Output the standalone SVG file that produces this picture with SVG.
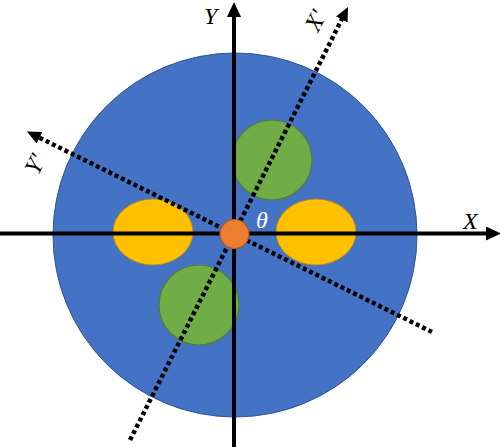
<svg xmlns="http://www.w3.org/2000/svg" width="500" height="447" viewBox="0 0 500 447">
<defs>
<marker id="ah" markerUnits="userSpaceOnUse" markerWidth="16" markerHeight="16" refX="6" refY="7" orient="auto"><path d="M0,0 L15,7 L0,14 z" fill="#000"/></marker>
<marker id="ahd" markerUnits="userSpaceOnUse" markerWidth="16" markerHeight="16" refX="5" refY="6.5" orient="auto"><path d="M0,0 L14,6.5 L0,13 z" fill="#000"/></marker>
</defs>
<style>
.axis{stroke:#000;stroke-width:4;fill:none}
.dot{stroke:#000;stroke-width:4.5;stroke-dasharray:4 3;fill:none}
.lbl{font-family:"Liberation Serif",serif;font-style:italic;font-size:24px;fill:#000}
.green{fill:#70AD47;stroke:#507E32;stroke-width:1.2}
.yellow{fill:#FFC000;stroke:#BC8C00;stroke-width:0.8}
</style>
<g id="disk"><circle cx="235" cy="235" r="182" fill="#4472C4" stroke="#2F528F" stroke-width="1"/></g>
<g id="yellow-left"><ellipse cx="153" cy="232" rx="40" ry="33" class="yellow"/></g>
<g id="yellow-right"><ellipse cx="316" cy="232" rx="40" ry="33" class="yellow"/></g>
<g id="green-top"><circle cx="272" cy="160" r="40" class="green"/></g>
<g id="green-bottom"><circle cx="199" cy="305" r="40" class="green"/></g>
<g id="connectors">
<line class="axis" x1="0" y1="233.5" x2="492" y2="233.5" marker-end="url(#ah)"/>
<line class="axis" x1="234" y1="447" x2="234" y2="11" marker-end="url(#ah)"/>
<line class="dot" x1="130" y1="440" x2="344" y2="15" marker-end="url(#ahd)"/>
<line class="dot" x1="432" y1="332" x2="35" y2="135.5" marker-end="url(#ahd)"/>
</g>
<g id="origin"><circle cx="234.5" cy="234" r="14.5" fill="#ED7D31" stroke="#AE5A21" stroke-width="1.2"/></g>
<g id="labels">
<text class="lbl" x="204" y="24">Y</text>
<text class="lbl" x="463" y="229">X</text>
<text class="lbl" x="256" y="228" style="fill:#fff">θ</text>
<text class="lbl" transform="translate(318,33) rotate(-63)" x="0" y="0">X′</text>
<text class="lbl" transform="translate(38,176) rotate(-63)" x="0" y="0">Y′</text>
</g>
</svg>
